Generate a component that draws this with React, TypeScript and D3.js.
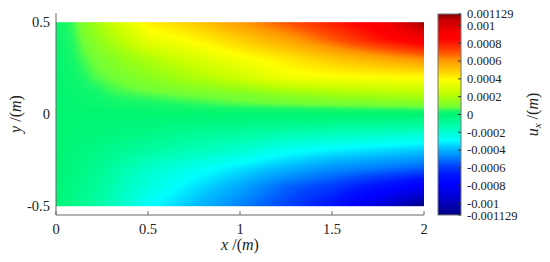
import { useMemo } from "react";
import * as d3 from "d3";

// sample positions of the field (m)
const xGrid = [0, 0.1, 0.2, 0.3, 0.5, 0.75, 1, 1.25, 1.5, 1.75, 2];
const yGrid = [0.5, 0.4, 0.3, 0.2, 0.1, 0.05, 0, -0.05, -0.1, -0.2, -0.3, -0.4, -0.5];

// u_x (m), one row for each y of yGrid
const uxRows = [
  [0.00002, 0.00006, 0.00016, 0.00025, 0.00042, 0.00049, 0.0006, 0.0007, 0.0008, 0.0009, 0.001129],
  [0.00001, 0.00005, 0.00012, 0.00019, 0.00033, 0.0004, 0.00048, 0.00057, 0.00068, 0.0008, 0.0009],
  [0, 0.00004, 0.00008, 0.00012, 0.0002, 0.00029, 0.00037, 0.00043, 0.0005, 0.00056, 0.00062],
  [0, 0.00002, 0.00006, 0.00008, 0.00013, 0.0002, 0.00027, 0.00036, 0.00038, 0.00039, 0.00039],
  [0, 0.00001, 0.00002, 0.000045, 0.00006, 0.00008, 0.0001, 0.00013, 0.00016, 0.00018, 0.0002],
  [0, 0.000005, 0.00001, 0.00002, 0.00003, 0.000045, 0.00006, 0.00007, 0.00008, 0.00009, 0.0001],
  [0, 0, 0, 0, 0, 0, 0, 0, 0, 0, 0],
  [0, -0.000005, -0.00001, -0.000015, -0.00002, -0.00003, -0.00004, -0.00005, -0.00006, -0.000065, -0.00007],
  [0, -0.000005, -0.00001, -0.00002, -0.00004, -0.00007, -0.00009, -0.00012, -0.00014, -0.00016, -0.00018],
  [0, -0.00002, -0.00004, -0.00006, -0.0001, -0.00015, -0.0002, -0.00027, -0.00031, -0.00034, -0.00037],
  [-0.00001, -0.00003, -0.00006, -0.0001, -0.00019, -0.00026, -0.00033, -0.0004, -0.00046, -0.0005, -0.00054],
  [-0.00001, -0.00004, -0.00008, -0.00013, -0.00023, -0.00033, -0.00042, -0.00053, -0.0006, -0.00071, -0.00082],
  [-0.00002, -0.00005, -0.0001, -0.00015, -0.00028, -0.00038, -0.00048, -0.00058, -0.0007, -0.0009, -0.001129],
];

// colour map (jet-like, as in the colour bar)
const cmapValues = [
  -0.001129, -0.00095, -0.00078, -0.00068, -0.00057, -0.00048, -0.00038, -0.00029, -0.00014, 0,
  0.00004, 0.00008, 0.00016, 0.00025, 0.00039, 0.0005, 0.00061, 0.0007, 0.00085, 0.00093, 0.00106, 0.001129,
];
const cmapColors = [
  "#000082", "#0000cd", "#0000ff", "#0014ff", "#0046ff", "#0082ff", "#00beff", "#00ffff", "#00ffb4", "#00f571",
  "#1af868", "#70ff38", "#98ff14", "#c8ff00", "#ffff00", "#ffc800", "#ff9600", "#ff5000", "#ff0000", "#f50000", "#c80000", "#820000",
];

const xTicks = [0, 0.5, 1, 1.5, 2];
const yTicks = [0.5, 0, -0.5];
const cbarTicks = [0.001129, 0.001, 0.0008, 0.0006, 0.0004, 0.0002, 0, -0.0002, -0.0004, -0.0006, -0.0008, -0.001, -0.001129];

const W = 550;
const H = 262;
const FONT = "'Liberation Serif', 'DejaVu Serif', serif";

// find the cell of v in a monotone grid
function locate(grid: number[], v: number) {
  for (let i = 0; i < grid.length - 1; i++) {
    const a = grid[i], b = grid[i + 1];
    if ((v - a) * (v - b) <= 0) return { i, t: (v - a) / (b - a) };
  }
  return { i: grid.length - 2, t: 1 };
}

export default function App() {
  const x = d3.scaleLinear().domain([0, 2]).range([56, 424]);
  const y = d3.scaleLinear().domain([-0.55, 0.55]).range([215, 13]);
  const color = d3.scaleLinear<string>().domain(cmapValues).range(cmapColors).interpolate(d3.interpolateRgb).clamp(true);
  const cbar = d3.scaleLinear().domain([-0.001129, 0.001129]).range([215, 14]);

  const x0 = x(0), x1 = x(2), y0 = y(0.5), y1 = y(-0.5);
  const imgW = Math.round(x1 - x0);
  const imgH = Math.round(y1 - y0);

  // shaded field, bilinear between the samples
  const href = useMemo(() => {
    const canvas = document.createElement("canvas");
    canvas.width = imgW;
    canvas.height = imgH;
    const ctx = canvas.getContext("2d");
    if (!ctx) return "";
    const img = ctx.createImageData(imgW, imgH);
    for (let py = 0; py < imgH; py++) {
      const yv = y.invert(y0 + py + 0.5);
      const cy = locate(yGrid, yv);
      for (let px = 0; px < imgW; px++) {
        const xv = x.invert(x0 + px + 0.5);
        const cx = locate(xGrid, xv);
        const r0 = uxRows[cy.i], r1 = uxRows[cy.i + 1];
        const a = r0[cx.i] + (r0[cx.i + 1] - r0[cx.i]) * cx.t;
        const b = r1[cx.i] + (r1[cx.i + 1] - r1[cx.i]) * cx.t;
        const v = a + (b - a) * cy.t;
        const c = d3.rgb(color(v));
        const k = (py * imgW + px) * 4;
        img.data[k] = c.r;
        img.data[k + 1] = c.g;
        img.data[k + 2] = c.b;
        img.data[k + 3] = 255;
      }
    }
    ctx.putImageData(img, 0, 0);
    return canvas.toDataURL();
  }, []);

  const cbX = 438, cbW = 23;
  const cMin = cmapValues[0], cMax = cmapValues[cmapValues.length - 1];

  return (
    <svg width={W} height={H} style={{ position: "absolute", left: 0, top: 0, background: "#fff" }} fontFamily={FONT}>
      <defs>
        <linearGradient id="cbarGrad" x1="0" y1="1" x2="0" y2="0">
          {cmapValues.map((v, i) => (
            <stop key={i} offset={(v - cMin) / (cMax - cMin)} stopColor={cmapColors[i]} />
          ))}
        </linearGradient>
      </defs>

      {/* field */}
      <image href={href} x={x0} y={y0} width={imgW} height={imgH} preserveAspectRatio="none" />

      {/* axes */}
      <line x1={x0} x2={x0} y1={y(0.55)} y2={y(-0.55)} stroke="#666" strokeWidth={1} />
      <line x1={x0} x2={x1} y1={y(-0.55)} y2={y(-0.55)} stroke="#666" strokeWidth={1} />
      {xTicks.map((t) => (
        <g key={`xt${t}`}>
          <line x1={x(t)} x2={x(t)} y1={y(-0.55)} y2={y(-0.55) - 4} stroke="#666" />
          <text x={x(t)} y={234} textAnchor="middle" fontSize={14.5} fill="#222">{t}</text>
        </g>
      ))}
      {yTicks.map((t) => (
        <text key={`yt${t}`} x={50} y={y(t)} dy="0.35em" textAnchor="end" fontSize={14.5} fill="#222">{t}</text>
      ))}

      <text x={240} y={250} textAnchor="middle" fontSize={16} fill="#222">
        <tspan fontStyle="italic">x</tspan> /(<tspan fontStyle="italic">m</tspan>)
      </text>
      <text transform={`translate(21,${y(0)}) rotate(-90)`} textAnchor="middle" fontSize={16} fill="#222">
        <tspan fontStyle="italic">y</tspan> /(<tspan fontStyle="italic">m</tspan>)
      </text>

      {/* colour bar */}
      <rect x={cbX} y={cbar(cMax)} width={cbW} height={cbar(cMin) - cbar(cMax)} fill="url(#cbarGrad)" stroke="#777" strokeWidth={1} />
      {cbarTicks.map((t) => (
        <g key={`cb${t}`}>
          <line x1={cbX + cbW} x2={cbX + cbW - 3} y1={cbar(t)} y2={cbar(t)} stroke="#333" />
          <text x={467} y={cbar(t) + (t === cMax ? -0.8 : t === cMin ? 0.8 : 0)} dy="0.35em" fontSize={12.5} fill="#222">{String(t)}</text>
        </g>
      ))}
      <text transform={`translate(538,${cbar(0)}) rotate(-90)`} textAnchor="middle" fontSize={16} fill="#222">
        <tspan fontStyle="italic">u</tspan>
        <tspan fontStyle="italic" fontSize={11} dy={3}>x</tspan>
        <tspan dy={-3}> /(</tspan>
        <tspan fontStyle="italic">m</tspan>)
      </text>
    </svg>
  );
}
